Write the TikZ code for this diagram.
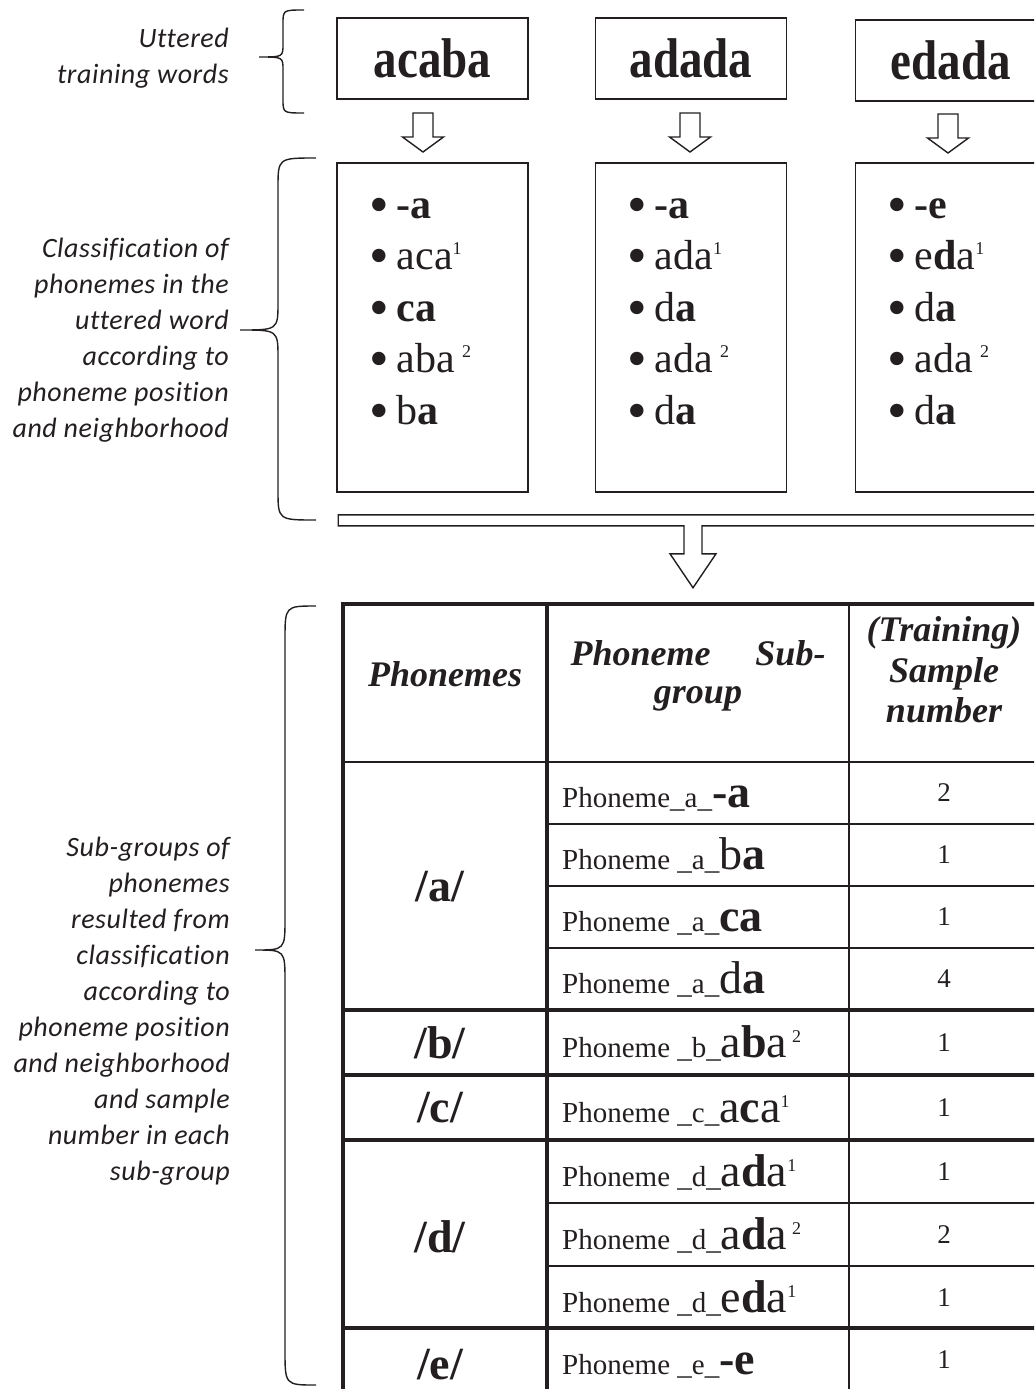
\documentclass[tikz,border=0pt]{standalone}
\usepackage{fontspec}
\setmainfont{Liberation Serif}
\newfontfamily\labfont{Carlito}[LetterSpace=2, Ligatures=NoCommon]
\usetikzlibrary{calc}
\definecolor{ink}{HTML}{231F20}

% hollow down arrow between a word box and its list box
\tikzset{
  hollowdown/.pic={
    \draw[ink, line width=1.4pt, fill=white]
      (-10,-18) -- (10,-18) -- (10,6) -- (20.5,6) -- (0,21) -- (-20.5,6) -- (-10,6) -- cycle;
  }
}
% large fragment of a word inside the table
\newcommand{\frag}[1]{{\fontsize{46}{48}\selectfont #1}}
% superscript index
\newcommand{\idx}[1]{\raisebox{15pt}{\fontsize{18}{18}\selectfont #1}}
% list bullet
\newcommand{\blt}{\raisebox{-5pt}{\fontsize{56}{56}\selectfont\textbullet}\hspace{8pt}}

\begin{document}
\begin{tikzpicture}[x=1pt, y=-1pt,
  wordbox/.style={draw=ink, line width=1.6pt, minimum width=191pt, minimum height=81pt,
    inner sep=0pt, text=ink, font=\fontsize{56}{60}\selectfont\bfseries},
  listbox/.style={draw=ink, line width=1.6pt, minimum width=191pt, minimum height=329pt, inner sep=0pt},
  item/.style={anchor=base west, inner sep=0pt, text=ink, font=\fontsize{42}{44}\selectfont},
  lab/.style={align=right, anchor=east, inner sep=0pt, text=ink,
    font=\labfont\itshape\fontsize{28}{36}\selectfont},
  sub/.style={anchor=base west, inner sep=0pt, text=ink, font=\fontsize{29}{30}\selectfont},
  num/.style={anchor=base, inner sep=0pt, text=ink, font=\fontsize{27}{30}\selectfont},
  phon/.style={inner sep=0pt, text=ink, font=\fontsize{46}{48}\selectfont\bfseries},
  head/.style={anchor=base, inner sep=0pt, text=ink, font=\fontsize{36}{41}\selectfont\bfseries\itshape},
  thin/.style={draw=ink, line width=1.5pt},
  thick/.style={draw=ink, line width=3.5pt},
  brace/.style={draw=ink, line width=1.4pt}
]
\useasboundingbox (0,0) rectangle (1034,1389);
\clip (0,0) rectangle (1034,1389);

% ---------- side labels ----------
\node[lab] (t1) at (229,58) {Uttered\\training words};
\node[lab] (t2) at (229,340) {Classification of\\phonemes in the\\uttered word\\according to\\phoneme position\\and neighborhood};
\node[lab] (t3) at (230,1011) {Sub-groups of\\phonemes\\resulted from\\classification\\according to\\phoneme position\\and neighborhood\\and sample\\number in each\\sub-group};

% ---------- braces ----------
\draw[brace] (304,10) .. controls (283,10) .. (283,24) -- (283,44)
  .. controls (283,57) .. (259,57) .. controls (283,57) .. (283,70) -- (283,99)
  .. controls (283,113) .. (304,113);
\draw[brace] (316,158) .. controls (278,158) .. (278,188) -- (278,302)
  .. controls (278,330) .. (240,330) .. controls (278,330) .. (278,358) -- (278,490)
  .. controls (278,520) .. (316,520);
\draw[brace] (316,606) .. controls (285,606) .. (285,640) -- (285,918)
  .. controls (285,950) .. (255,950) .. controls (285,950) .. (285,982) -- (285,1350)
  .. controls (285,1385) .. (316,1385);

% ---------- uttered words ----------
\node[wordbox] (w1) at (432.5,58.5) {\scalebox{0.84}[1]{acaba}};
\node[wordbox] (w2) at (691,58.5) {\scalebox{0.84}[1]{adada}};
\node[wordbox] (w3) at (951,60.5) {\scalebox{0.84}[1]{edada}};

% ---------- phoneme lists ----------
\node[listbox] (l1) at (432.5,327.5) {};
\node[listbox] (l2) at (691,327.5) {};
\node[listbox] (l3) at (951,327.5) {};

\foreach \w/\l/\dx in {w1/l1/-9.5, w2/l2/-1, w3/l3/-3}
  \pic at ($(\w.south)!0.5!(\l.north)+(\dx,0)$) {hollowdown};

% list entries
\node[item] (a1) at (369,218) {\blt\textbf{-a}};
\node[item] (a2) at (369,269) {\blt aca\idx{1}};
\node[item] (a3) at (369,321) {\blt\textbf{ca}};
\node[item] (a4) at (369,372) {\blt aba\,\idx{2}};
\node[item] (a5) at (369,424) {\blt b\textbf{a}};

\node[item] (b1) at (627,218) {\blt\textbf{-a}};
\node[item] (b2) at (627,269) {\blt ada\idx{1}};
\node[item] (b3) at (627,321) {\blt d\textbf{a}};
\node[item] (b4) at (627,372) {\blt ada\,\idx{2}};
\node[item] (b5) at (627,424) {\blt d\textbf{a}};

\node[item] (c1) at (887,218) {\blt\textbf{-e}};
\node[item] (c2) at (887,269) {\blt e\textbf{d}a\idx{1}};
\node[item] (c3) at (887,321) {\blt d\textbf{a}};
\node[item] (c4) at (887,372) {\blt ada\,\idx{2}};
\node[item] (c5) at (887,424) {\blt d\textbf{a}};

% ---------- merging block arrow ----------
\coordinate (m) at ($(l2.south)+(2,0)$);
\draw[ink, line width=1.4pt, fill=white]
  ($(l1.south west)+(2,22)$) -- ++(800,0) -- ++(0,11) -- ($(m)+(9,33)$)
  -- ($(m)+(9,61)$) -- ($(m)+(23,61)$) -- ($(m)+(0,95)$) -- ($(m)+(-23,61)$)
  -- ($(m)+(-9,61)$) -- ($(m)+(-9,33)$) -- ($(l1.south west)+(2,33)$) -- cycle;

% ---------- table ----------
% outer frame and column rules
\draw[thick] (343,1400) -- (343,604) -- (1100,604);
\draw[thick] (547,604) -- (547,1400);
\draw[thin] (849,604) -- (849,1400);
% row rules
\draw[thin] (343,762) -- (1100,762);
\foreach \y in {824,886,948,1203,1266} \draw[thin] (547,\y) -- (1100,\y);
\foreach \y in {1010,1075,1140,1328} \draw[thick] (343,\y) -- (1100,\y);

% header
\node[head] (h1) at (445,686) {Phonemes};
\node[head] (h2) at (698,665) {\makebox[255pt][s]{Phoneme\hfill Sub-}};
\node[head] (h2b) at (698,703) {group};
\node[head] (h3) at (944,641) {(Training)};
\node[head] (h3b) at (944,682) {Sample};
\node[head] (h3c) at (944,722) {number};

% phoneme column
\node[phon] (pa) at (440,887) {/a/};
\node[phon] (pb) at (440,1043) {/b/};
\node[phon] (pc) at (440,1108) {/c/};
\node[phon] (pd) at (440,1237) {/d/};
\node[phon] (pe) at (440,1365) {/e/};

% sub-group column
\node[sub] (s1) at (562,807) {Phoneme\_a\_\frag{\textbf{-a}}};
\node[sub] (s2) at (562,869) {Phoneme \_a\_\frag{b\textbf{a}}};
\node[sub] (s3) at (562,931) {Phoneme \_a\_\frag{\textbf{ca}}};
\node[sub] (s4) at (562,993) {Phoneme \_a\_\frag{d\textbf{a}}};
\node[sub] (s5) at (562,1057) {Phoneme \_b\_\frag{a\textbf{b}a}\,\idx{2}};
\node[sub] (s6) at (562,1122) {Phoneme \_c\_\frag{a\textbf{c}a}\idx{1}};
\node[sub] (s7) at (562,1186) {Phoneme \_d\_\frag{a\textbf{d}a}\idx{1}};
\node[sub] (s8) at (562,1249) {Phoneme \_d\_\frag{a\textbf{d}a}\,\idx{2}};
\node[sub] (s9) at (562,1312) {Phoneme \_d\_\frag{e\textbf{d}a}\idx{1}};
\node[sub] (s10) at (562,1374) {Phoneme \_e\_\frag{\textbf{-e}}};

% sample numbers
\node[num] (n1) at (944,801) {2};
\node[num] (n2) at (944,863) {1};
\node[num] (n3) at (944,925) {1};
\node[num] (n4) at (944,987) {4};
\node[num] (n5) at (944,1051) {1};
\node[num] (n6) at (944,1116) {1};
\node[num] (n7) at (944,1180) {1};
\node[num] (n8) at (944,1243) {2};
\node[num] (n9) at (944,1306) {1};
\node[num] (n10) at (944,1368) {1};

\end{tikzpicture}
\end{document}
